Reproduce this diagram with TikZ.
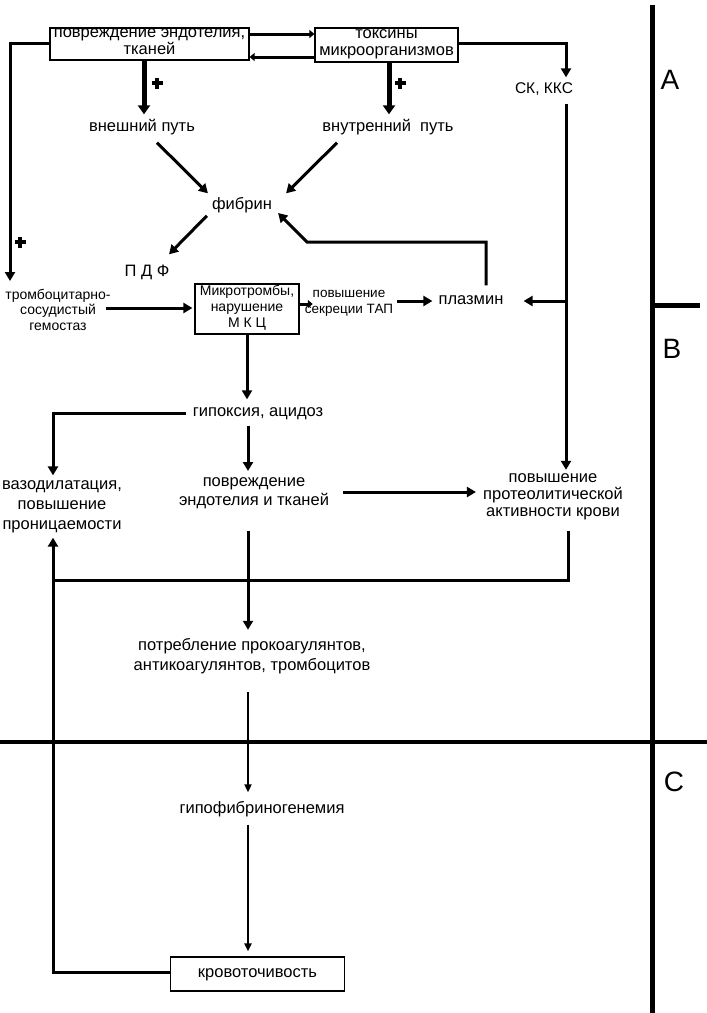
\documentclass[tikz,border=0pt]{standalone}
\usepackage{fontspec}
\setmainfont{Liberation Sans}
\usetikzlibrary{arrows.meta,calc}
\begin{document}
\begin{tikzpicture}[x=1pt,y=-1pt,
  txt/.style={inner sep=0pt,align=center,font=\fontsize{16.5}{19}\selectfont,
    execute at begin node=\strut,execute at end node=\strut},
  small/.style={txt,font=\fontsize{14}{15.5}\selectfont},
  box/.style={draw,line width=1.2pt,inner sep=0pt},
  conn/.style={line width=3pt},
  arr/.style={conn,-{Triangle[length=9pt,width=10pt]}},
  bigarr/.style={line width=5pt,-{Triangle[length=9pt,width=12pt]}},
  thinarr/.style={line width=2pt,-{Triangle[length=8pt,width=7pt]}},
  sarr/.style={line width=3pt,-{Triangle[length=5pt,width=8pt]}},
  sepline/.style={line width=5pt},
  plusmark/.style={line width=3.5pt},
  lab/.style={font=\fontsize{28}{30}\selectfont,inner sep=0pt}]

\fill[white] (0,0) rectangle (707,1013);
\useasboundingbox (0,0) rectangle (707,1013);

% separators
\draw[sepline] (652,5) -- (652,1013);
\draw[sepline] (652,305) -- (700,305);
\draw[line width=3.5pt] (0,742) -- (707,742);
\node[lab] (A) at (670,80) {A};
\node[lab] (B) at (672,349) {B};
\node[lab] (C) at (674,782) {C};

% nodes
\node[box,txt,font=\fontsize{16.5}{16.5}\selectfont,minimum width=199pt,minimum height=32pt] (dam) at (149.5,44) {повреждение эндотелия,\\тканей};
\node[box,txt,font=\fontsize{16.5}{16.5}\selectfont,minimum width=143pt,minimum height=34pt] (tox) at (386.5,45) {токсины\\микроорганизмов};
\node[txt] (ext) at (142,128) {внешний путь};
\node[txt] (int) at (388,128) {внутренний\ \ путь};
\node[txt,font=\fontsize{15.5}{19}\selectfont] (sk) at (544,90) {СК, ККС};
\node[txt] (fib) at (242,206) {фибрин};
\node[txt] (pdf) at (147,273) {П Д Ф};
\node[small] (trom) at (58,312) {тромбоцитарно-\\сосудистый\\гемостаз};
\node[box,small,font=\fontsize{14}{16}\selectfont,minimum width=104pt,minimum height=50pt] (micro) at (247,309) {Микротромбы,\\нарушение\\М К Ц};
\node[small,font=\fontsize{13.5}{15.5}\selectfont] (tap) at (349,304) {повышение\\секреции ТАП};
\node[txt] (plas) at (471,301) {плазмин};
\node[txt] (hyp) at (258,413) {гипоксия, ацидоз};
\node[txt,font=\fontsize{16.5}{20}\selectfont] (vaso) at (62,508) {вазодилатация,\\повышение\\проницаемости};
\node[txt] (dam2) at (254,494) {повреждение\\эндотелия и тканей};
\node[txt,font=\fontsize{16.5}{17}\selectfont] (prot) at (553,498) {повышение\\протеолитической\\активности крови};
\node[txt,font=\fontsize{16.5}{20}\selectfont] (cons) at (252,657) {потребление прокоагулянтов,\\антикоагулянтов, тромбоцитов};
\node[txt] (hypo) at (262,810) {гипофибриногенемия};
\node[box,txt,minimum width=174pt,minimum height=34pt] (bleed) at (257.5,974) {кровоточивость};

% plus marks
\coordinate (p1) at (157,83);
\coordinate (p2) at (400,83);
\coordinate (p3) at (20,242);
\foreach \p in {p1,p2,p3}{
  \draw[plusmark] ($(\p)+(-5.5,0)$) -- ($(\p)+(5.5,0)$) ($(\p)+(0,-5.5)$) -- ($(\p)+(0,5.5)$);
}

% connectors
\draw[sarr] ($(dam.east)+(0,-10)$) -- ($(tox.west)+(0,-11)$);
\draw[sarr] ($(tox.west)+(0,12)$) -- ($(dam.east)+(0,13)$);
\coordinate (lt) at (10,281);
\draw[arr] ($(dam.west)+(0,-1)$) -| (lt);
\draw[bigarr] ($(dam.south)+(-5.5,0)$) -- ($(ext.north)+(2,-4)$);
\draw[bigarr] ($(tox.south)+(2.5,0)$) -- ($(int.north)+(1,-4)$);
\draw[arr] ($(tox.east)+(0,-2)$) -| ($(sk.north)+(22,-3)$);
\draw[arr] ($(sk.south)+(22,4)$) -- ($(prot.north)+(13,-4)$);
\coordinate (pj) at (566,301);
\draw[arr] (pj) -- ($(plas.east)+(20,0)$);

\draw[arr] ($(ext.south)+(15,5)$) -- ($(fib.north west)+(-4,-3)$);
\draw[arr] ($(int.south)+(-51,5)$) -- ($(fib.north east)+(14,-3)$);
\draw[arr] ($(fib.south west)+(-5,0)$) -- ($(pdf.north)+(22,-9)$);
\coordinate (pb) at (307,242);
\draw[arr] ($(plas.north)+(15,-6)$) |- (pb) -- ($(fib.east)+(6,7)$);

\draw[arr] ($(trom.east)+(-5,-4)$) -- ($(micro.west)+(-2,-1)$);
\draw[sarr] ($(micro.east)+(0,-5)$) -- ($(tap.west)+(8,0)$);
\draw[arr] ($(tap.east)+(4,-3)$) -- ($(plas.west)+(-6,0)$);

\draw[arr,shorten >=4pt] (micro.south) -- (micro.south |- hyp.north);
\draw[arr] ($(hyp.west)+(-7,0)$) -| ($(vaso.north)+(-9,-5)$);
\draw[arr] ($(hyp.south)+(-10,3)$) -- ($(dam2.north)+(-6,-6)$);
\draw[arr] ($(dam2.east)+(14,-2)$) -- ($(prot.west)+(-7,-6)$);
\coordinate (jl) at (53,580);
\draw[conn] ($(prot.south)+(15,9)$) |- (jl);
\draw[arr] ($(dam2.south)+(-6,20)$) -- ($(cons.north)+(-4,-8)$);
\draw[thinarr] ($(cons.south)+(-4,16)$) -- ($(hypo.north)+(-14,-8)$);
\draw[thinarr] ($(hypo.south)+(-14,5)$) -- ($(bleed.north)+(-9.5,-5)$);
\draw[arr] ($(bleed.west)+(0,-2)$) -| ($(vaso.south)+(-9,2)$);
\end{tikzpicture}
\end{document}
